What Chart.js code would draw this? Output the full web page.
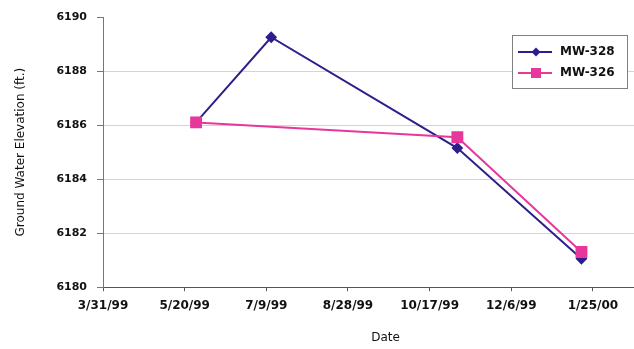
<!DOCTYPE html>
<html>
<head>
<meta charset="utf-8">
<script src="https://cdn.jsdelivr.net/npm/chart.js@4.4.0/dist/chart.umd.min.js"></script>
<style>
  html, body { margin: 0; padding: 0; background: #fff; overflow: hidden; width: 634px; height: 349px; }
  #marco { position: relative; width: 700px; height: 349px; }
</style>
</head>
<body>
<div id="marco"><canvas id="grafico"></canvas></div>
<script>
// fechas de muestreo y niveles (ft.)
const origen = '3/31/1999';
const fechas = ['5/27/1999', '7/12/1999', '11/3/1999', '1/18/2000'];
const mw328 = [6186.1, 6189.25, 6185.15, 6181.05];
const mw326 = [6186.1, null, 6185.55, 6181.3];

// etiquetas del eje X, una cada 50 dias desde el origen
const etiquetasX = ['3/31/99', '5/20/99', '7/9/99', '8/28/99', '10/17/99', '12/6/99', '1/25/00'];
const pasoDias = 50;

function aUTC(f) {
    const [m, d, a] = f.split('/').map(Number);
    return Date.UTC(a, m - 1, d);
}

function dias(f) {
    return Math.round((aUTC(f) - aUTC(origen)) / 86400000);
}

function puntos(valores) {
    return fechas.map((f, i) => ({ x: dias(f), y: valores[i] }));
}

const colorAzul = '#2c1f8c';
const colorRosa = '#e8379b';

// leyenda en recuadro dentro del area del grafico
const leyendaCaja = {
    id: 'leyendaCaja',
    afterDatasetsDraw(chart) {
        const c = chart.ctx;
        const x = 512, y = 35, w = 115, h = 53;
        c.save();
        c.fillStyle = '#fff';
        c.fillRect(x, y, w, h);
        c.strokeStyle = '#808080';
        c.lineWidth = 1;
        c.strokeRect(x + 0.5, y + 0.5, w, h);
        c.font = 'bold 12px "DejaVu Sans"';
        c.textBaseline = 'middle';
        chart.data.datasets.forEach((ds, i) => {
            const fy = y + 17 + i * 21;
            c.strokeStyle = ds.borderColor;
            c.lineWidth = 2;
            c.beginPath();
            c.moveTo(x + 6, fy);
            c.lineTo(x + 40, fy);
            c.stroke();
            c.fillStyle = ds.pointBackgroundColor;
            const cx = x + 24;
            c.beginPath();
            if (ds.pointStyle === 'rectRot') {
                c.moveTo(cx, fy - 4.5); c.lineTo(cx + 4.5, fy); c.lineTo(cx, fy + 4.5); c.lineTo(cx - 4.5, fy);
            } else {
                c.rect(cx - 5, fy - 5, 10, 10);
            }
            c.fill();
            c.fillStyle = '#111';
            c.fillText(ds.label, x + 48, fy);
        });
        c.restore();
    }
};

new Chart(document.getElementById('grafico'), {
    type: 'line',
    data: {
        datasets: [
            {
                label: 'MW-328',
                data: puntos(mw328),
                borderColor: colorAzul,
                backgroundColor: colorAzul,
                pointBackgroundColor: colorAzul,
                pointBorderColor: colorAzul,
                pointStyle: 'rectRot',
                pointRadius: 4.5,
                borderWidth: 2,
                tension: 0,
                spanGaps: true,
                order: 2
            },
            {
                label: 'MW-326',
                data: puntos(mw326),
                borderColor: colorRosa,
                backgroundColor: colorRosa,
                pointBackgroundColor: colorRosa,
                pointBorderColor: colorRosa,
                pointStyle: 'rect',
                pointRadius: 7,
                borderWidth: 2,
                tension: 0,
                spanGaps: true,
                order: 1
            }
        ]
    },
    options: {
        responsive: true,
        maintainAspectRatio: false,
        animation: false,
        layout: { padding: { left: 14, top: 17, right: 32, bottom: 4 } },
        plugins: {
            legend: { display: false },
            tooltip: { enabled: false }
        },
        scales: {
            x: {
                type: 'linear',
                min: 0,
                max: 346,
                ticks: {
                    stepSize: pasoDias,
                    autoSkip: false,
                    maxRotation: 0,
                    padding: 7,
                    color: '#111',
                    font: { family: 'DejaVu Sans', size: 12, weight: 'bold' },
                    callback: (v) => etiquetasX[Math.round(v / pasoDias)] || ''
                },
                grid: { drawOnChartArea: false, tickLength: 4, tickColor: '#555' },
                border: { color: '#555', width: 1 },
                title: {
                    display: true,
                    text: 'Date',
                    color: '#111',
                    font: { family: 'DejaVu Sans', size: 12 },
                    padding: { top: 11, bottom: 0 }
                }
            },
            y: {
                min: 6180,
                max: 6190,
                ticks: {
                    stepSize: 2,
                    padding: 10,
                    color: '#111',
                    font: { family: 'DejaVu Sans', size: 11, weight: 'bold' },
                    callback: (v) => String(v)
                },
                grid: {
                    color: (ctx) => (ctx.tick && (ctx.tick.value === 6190 || ctx.tick.value === 6180)) ? 'rgba(0,0,0,0)' : '#d4d4d4',
                    tickColor: '#777',
                    tickLength: 6
                },
                border: { color: '#777', width: 1 },
                title: {
                    display: true,
                    text: 'Ground Water Elevation (ft.)',
                    color: '#111',
                    font: { family: 'DejaVu Sans', size: 12 },
                    padding: { top: 0, bottom: 18 }
                }
            }
        }
    },
    plugins: [leyendaCaja]
});
</script>
</body>
</html>
